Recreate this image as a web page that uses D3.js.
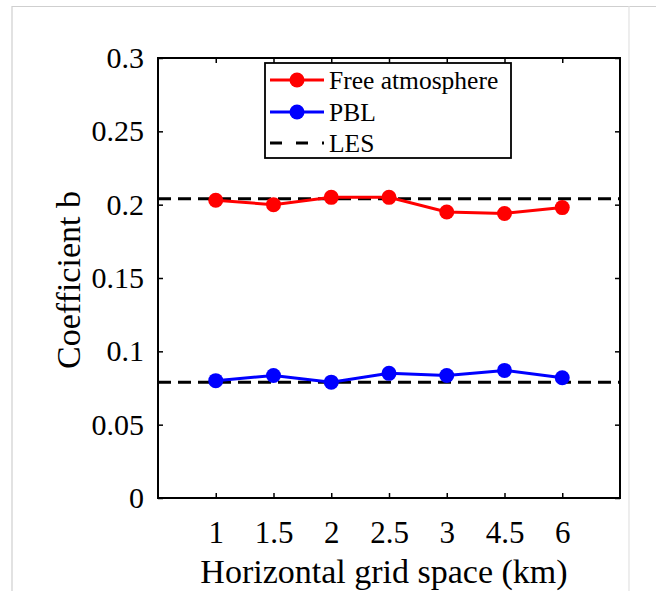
<!DOCTYPE html>
<html>
<head>
<meta charset="utf-8">
<script src="https://cdn.jsdelivr.net/npm/d3@7"></script>
<style>
  html, body { margin: 0; padding: 0; background: #fff; }
  svg { display: block; }
  text { font-family: "Liberation Serif", "Times New Roman", serif; fill: #000; }
</style>
</head>
<body>
<svg id="chart" width="656" height="591"></svg>
<script>
// Grid spacing categories (km), plotted at evenly spaced positions 1..7
const gridLabels = ["1", "1.5", "2", "2.5", "3", "4.5", "6"];
const positions = [1, 2, 3, 4, 5, 6, 7];

// Coefficient b for each configuration
const freeAtmosphere = [0.203, 0.200, 0.205, 0.205, 0.195, 0.194, 0.198];
const pbl = [0.080, 0.0835, 0.079, 0.085, 0.0835, 0.087, 0.082];

// LES reference values
const lesFree = 0.204;
const lesPbl = 0.079;

const yTicks = [0, 0.05, 0.1, 0.15, 0.2, 0.25, 0.3];
const yTickLabels = ["0", "0.05", "0.1", "0.15", "0.2", "0.25", "0.3"];

const svg = d3.select("#chart");

// outer frame
svg.append("path")
  .attr("d", "M12,591 V6.5 H656")
  .attr("fill", "none").attr("stroke", "#cfcfcf").attr("stroke-width", 1.2);
svg.append("line")
  .attr("x1", 629).attr("x2", 629).attr("y1", 6).attr("y2", 591)
  .attr("stroke", "#e2e2e2").attr("stroke-width", 1.2);

const plotLeft = 158, plotRight = 620, plotTop = 58, plotBottom = 498;
const x = d3.scaleLinear().domain([0, 8]).range([plotLeft, plotRight]);
const y = d3.scaleLinear().domain([0, 0.3]).range([plotBottom, plotTop]);

// axes
const xAxis = d3.axisBottom(x).tickValues(positions)
  .tickFormat((d, i) => gridLabels[i]).tickSizeInner(-5).tickSizeOuter(0).tickPadding(22.5);
const gx = svg.append("g").attr("transform", `translate(0,${plotBottom})`).call(xAxis);
const xTop = d3.axisTop(x).tickValues(positions).tickFormat("").tickSizeInner(-5).tickSizeOuter(0);
const gxt = svg.append("g").attr("transform", `translate(0,${plotTop})`).call(xTop);

const yAxis = d3.axisLeft(y).tickValues(yTicks)
  .tickFormat((d, i) => yTickLabels[i]).tickSizeInner(-5).tickSizeOuter(0).tickPadding(14);
const gy = svg.append("g").attr("transform", `translate(${plotLeft},0)`).call(yAxis);
const yRight = d3.axisRight(y).tickValues(yTicks).tickFormat("").tickSizeInner(-5).tickSizeOuter(0);
const gyr = svg.append("g").attr("transform", `translate(${plotRight},0)`).call(yRight);

[gx, gxt, gy, gyr].forEach(g => {
  g.select(".domain").remove();
  g.selectAll(".tick line").attr("stroke", "#000").attr("stroke-width", 1.5);
  g.selectAll("text").style("font-family", "Liberation Serif, serif").attr("fill", "#000");
});
gx.selectAll("text").style("font-size", "31px");
gy.selectAll("text").style("font-size", "30px");

// box
svg.append("rect")
  .attr("x", plotLeft).attr("y", plotTop)
  .attr("width", plotRight - plotLeft).attr("height", plotBottom - plotTop)
  .attr("fill", "none").attr("stroke", "#000").attr("stroke-width", 2);

// LES reference lines
[lesFree, lesPbl].forEach(v => {
  svg.append("line")
    .attr("x1", x(0)).attr("x2", x(8)).attr("y1", y(v)).attr("y2", y(v))
    .attr("stroke", "#000").attr("stroke-width", 3).attr("stroke-dasharray", "13,7");
});

// series
const line = d3.line().x((d, i) => x(positions[i])).y(d => y(d));
const series = [
  { name: "Free atmosphere", values: freeAtmosphere, color: "#ff0000" },
  { name: "PBL", values: pbl, color: "#0000ff" }
];
series.forEach(s => {
  svg.append("path").datum(s.values)
    .attr("d", line).attr("fill", "none")
    .attr("stroke", s.color).attr("stroke-width", 3);
  svg.selectAll(null).data(s.values).enter().append("circle")
    .attr("cx", (d, i) => x(positions[i])).attr("cy", d => y(d))
    .attr("r", 7.5).attr("fill", s.color);
});

// legend
const lg = svg.append("g");
lg.append("rect").attr("x", 265).attr("y", 63).attr("width", 246).attr("height", 95)
  .attr("fill", "#fff").attr("stroke", "#000").attr("stroke-width", 1.8);
const rows = [
  { label: "Free atmosphere", color: "#ff0000", y: 80, marker: true },
  { label: "PBL", color: "#0000ff", y: 112, marker: true },
  { label: "LES", color: "#000", y: 143, marker: false }
];
rows.forEach(r => {
  lg.append("line").attr("x1", 270).attr("x2", 324).attr("y1", r.y).attr("y2", r.y)
    .attr("stroke", r.color).attr("stroke-width", 3)
    .attr("stroke-dasharray", r.marker ? null : "12,14");
  if (r.marker) {
    lg.append("circle").attr("cx", 297).attr("cy", r.y).attr("r", 7.5).attr("fill", r.color);
  }
  lg.append("text").attr("x", 329).attr("y", r.y).attr("dy", "0.34em")
    .style("font-size", "25.5px").text(r.label);
});

// axis titles
svg.append("text")
  .attr("transform", `translate(80,${(plotTop + plotBottom) / 2 + 2}) rotate(-90)`)
  .attr("text-anchor", "middle").style("font-size", "34px").text("Coefficient b");
svg.append("text")
  .attr("x", 384).attr("y", 583).attr("text-anchor", "middle")
  .style("font-size", "34px").text("Horizontal grid space (km)");
</script>
</body>
</html>
